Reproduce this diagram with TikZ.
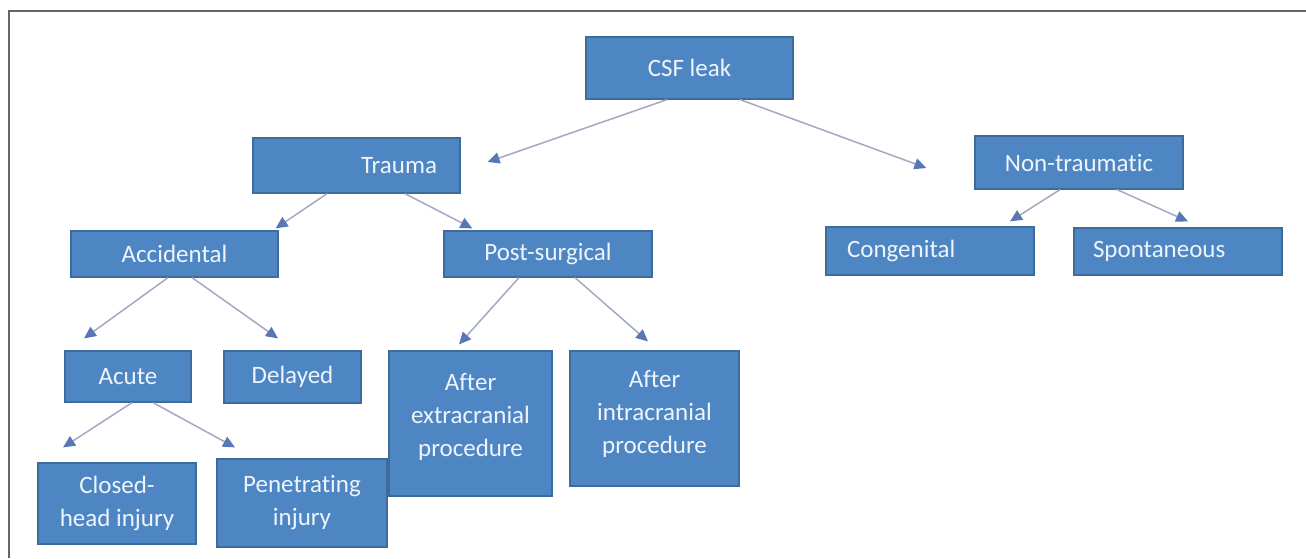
\documentclass[tikz,border=0pt]{standalone}
\usepackage{fontspec}
\setmainfont[Ligatures=NoCommon]{Carlito}
\usetikzlibrary{arrows.meta,calc}
\definecolor{boxfill}{HTML}{4E86C4}
\definecolor{boxline}{HTML}{3D6B9C}
\definecolor{txtcol}{HTML}{EEF4FB}
\definecolor{linecol}{HTML}{A3A9C2}
\definecolor{tipcol}{HTML}{5878B4}
\definecolor{framecol}{HTML}{666666}
\begin{document}
\begin{tikzpicture}[x=1pt,y=1pt,
  box/.style={draw=boxline, fill=boxfill, line width=1.2pt, text=txtcol,
    font=\fontsize{25}{33}\selectfont, align=center, inner sep=0pt},
  txtlab/.style={text=txtcol, font=\fontsize{25}{33}\selectfont, align=center, inner sep=0pt},
  arr/.style={draw=linecol, line width=1.5pt, -{Triangle[length=12pt,width=11pt,color=tipcol]}},
]
\useasboundingbox[fill=white] (0,0) rectangle (1306,-558);
\draw[framecol, line width=2.4pt] (9,-558) -- (9,-11) -- (1306,-11);

\node[box, minimum width=207, minimum height=62] (csf) at (689.5,-68) {CSF leak};
\node[box, minimum width=207, minimum height=55, text width=161, align=right] (trauma) at (356.5,-165.5) {Trauma};
\node[box, minimum width=208, minimum height=53] (nontr) at (1079,-162.5) {Non-traumatic};
\node[box, minimum width=207, minimum height=46] (accid) at (174.5,-254) {Accidental};
\node[box, minimum width=208, minimum height=46] (post) at (548,-254) {Post-surgical};
\node[box, minimum width=208, minimum height=48, text width=166, align=left] (cong) at (930,-251) {Congenital};
\node[box, minimum width=208, minimum height=47, text width=170, align=left] (spont) at (1178,-251.5) {Spontaneous};
\node[box, minimum width=126, minimum height=51] (acute) at (128,-376.5) {Acute};
\node[box, minimum width=137, minimum height=52] (delayed) at (292.5,-377) {Delayed};
\node[box, minimum width=163, minimum height=145,
  label={[txtlab, name=extraT, yshift=7]center:After\\extracranial\\procedure}] (extra) at (470.5,-423.5) {};
\node[box, minimum width=169, minimum height=135,
  label={[txtlab, name=intraT, yshift=5]center:After\\intracranial\\procedure}] (intra) at (654.5,-418.5) {};
\node[box, minimum width=158, minimum height=81] (closed) at (117,-503.5) {Closed-\\head injury};
\node[box, minimum width=170, minimum height=88] (penet) at (302,-503) {Penetrating\\injury};

\draw[arr] ([xshift=-22.5]csf.south) -- ([xshift=27,yshift=3.5]trauma.east);
\draw[arr] ([xshift=50.5]csf.south) -- ([xshift=-48,yshift=-5.5]nontr.west);
\draw[arr] ([xshift=-29.5]trauma.south) -- ([xshift=-3,yshift=2]accid.north east);
\draw[arr] ([xshift=48.5]trauma.south) -- ([xshift=29,yshift=2]post.north west);
\draw[arr] ([xshift=-6.5]accid.south) -- ([xshift=-44,yshift=12]acute.north);
\draw[arr] ([xshift=17.5]accid.south) -- ([xshift=-14.5,yshift=12]delayed.north);
\draw[arr] ([xshift=-29]post.south) -- ([xshift=-11.5,yshift=6]extra.north);
\draw[arr] ([xshift=27]post.south) -- ([xshift=-6.5,yshift=9]intra.north);
\draw[arr] ([xshift=-19]nontr.south) -- ([xshift=80,yshift=5]cong.north);
\draw[arr] ([xshift=38]nontr.south) -- ([xshift=10,yshift=6]spont.north);
\draw[arr] ([xshift=4]acute.south) -- ([xshift=-54,yshift=15]closed.north);
\draw[arr] ([xshift=25]acute.south) -- ([xshift=-67,yshift=11]penet.north);
\end{tikzpicture}
\end{document}
